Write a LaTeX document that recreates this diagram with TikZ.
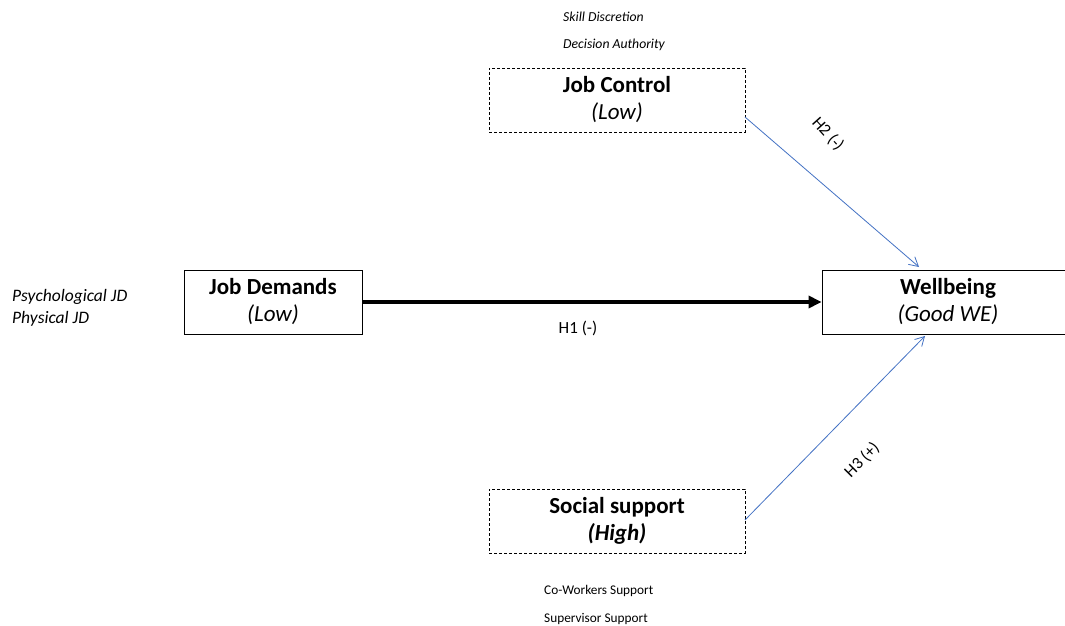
\documentclass[tikz,border=0pt]{standalone}
\usepackage{fontspec}
\setmainfont{Carlito}
\usetikzlibrary{arrows.meta}
\definecolor{linkblue}{RGB}{68,114,196}
\tikzset{
  box/.style={draw=black, line width=0.8pt, minimum height=64pt, inner sep=0pt},
  dbox/.style={box, dashed, dash pattern=on 3pt off 2pt},
  title/.style={font=\fontsize{23}{27}\selectfont, align=center},
  note/.style={font=\fontsize{13.7}{16}\selectfont\itshape, anchor=west, inner sep=0pt},
  subnote/.style={font=\fontsize{13.3}{16}\selectfont, anchor=west, inner sep=0pt},
  hyp/.style={font=\fontsize{17}{20}\selectfont, inner sep=0pt},
  mainarrow/.style={line width=3.2pt, -{Triangle[length=13pt,width=12pt]}},
  bluearrow/.style={draw=linkblue, line width=0.8pt, -{Straight Barb[length=9pt,width=10pt]}}
}
\begin{document}
\begin{tikzpicture}[x=1pt,y=-1pt]
\clip (0,0) rectangle (1065,626);
\fill[white] (0,0) rectangle (1065,626);
% boxes
\node[dbox, minimum width=256pt, title] (jc) at (617,100) {\textbf{Job Control}\\\textit{(Low)}};
\node[box, minimum width=178pt, title] (jd) at (273,302) {\textbf{Job Demands}\\\textit{(Low)}};
\node[box, minimum width=252pt, title] (wb) at (948,302) {\textbf{Wellbeing}\\\textit{(Good WE)}};
\node[dbox, minimum width=256pt, title] (ss) at (617,521) {\textbf{Social support}\\\textbf{\textit{(High)}}};
% notes
\node[note] (sd) at (563,17) {Skill Discretion};
\node[note] (da) at (563,45) {Decision Authority};
\node[note, font=\fontsize{17.5}{20}\selectfont\itshape] (pj) at (12,297) {Psychological JD};
\node[note, font=\fontsize{17.5}{20}\selectfont\itshape] (ph) at (12,319) {Physical JD};
\node[subnote] (cw) at (544,591) {Co-Workers Support};
\node[subnote] (sv) at (544,619) {Supervisor Support};
% connectors
\coordinate (jcout) at (745,117);
\coordinate (wbtop) at (919,267);
\coordinate (ssout) at (745,520);
\coordinate (wbbot) at (925,336);
\draw[mainarrow] (jd.east) -- (wb.west);
\draw[bluearrow] (jcout) -- (wbtop);
\draw[bluearrow] (ssout) -- (wbbot);
% labels
\node[hyp] (h1) at (578,328) {H1 (-)};
\node[hyp, rotate=-48] (h2) at (828,134) {H2 (-)};
\node[hyp, rotate=45] (h3) at (862,460) {H3 (+)};
\end{tikzpicture}
\end{document}
